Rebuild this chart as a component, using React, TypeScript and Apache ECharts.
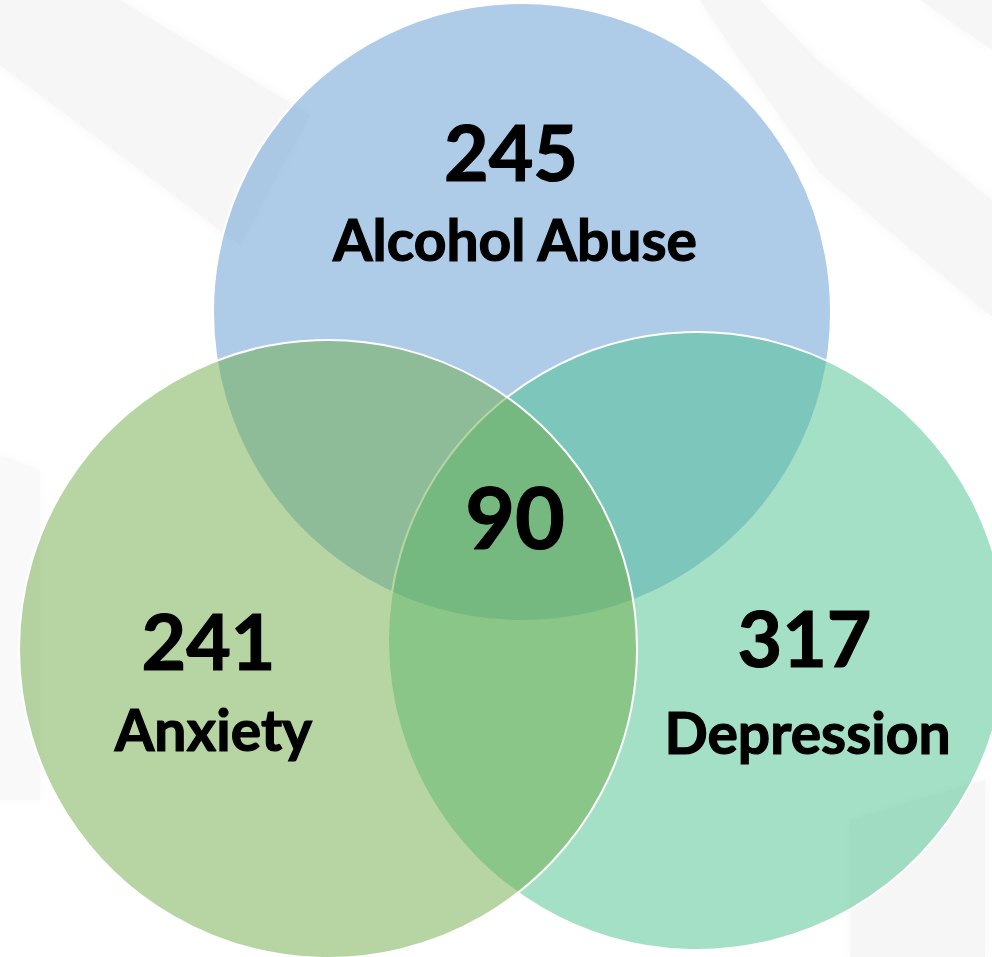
import React, { useEffect, useRef } from "react";
import * as echarts from "echarts";

// ---- Data ----
const setNames: string[] = ["Alcohol Abuse", "Anxiety", "Depression"];
const setOnlyCounts: number[] = [245, 241, 317];
const allThreeCount: number = 90;

// ---- Layout (pixel-space coordinates on hidden value axes) ----
const W = 992;
const H = 957;
const circleCenters: number[][] = [
  [522, 312],
  [328, 649],
  [697, 641],
];
const circleRadius = 309;
const circleColors: string[] = [
  "rgba(93,151,209,0.5)",
  "rgba(109,171,71,0.5)",
  "rgba(73,193,141,0.5)",
];
const drawOrder: number[] = [0, 2, 1];
const numberPos: number[][] = [
  [511, 151],
  [208.5, 639.5],
  [804.5, 637],
];
const labelPos: number[][] = [
  [515, 238.5],
  [213.5, 729],
  [807.5, 731.5],
];
const centerPos: number[] = [515, 515.5];

const FONT = "Lato, 'Open Sans', 'Noto Sans', sans-serif";
const BAND = "#f6f6f6";

export default function App() {
  const ref = useRef<HTMLDivElement>(null);
  useEffect(() => {
    document.body.style.margin = "0";
    if (!ref.current) return;
    const chart = echarts.init(ref.current, null, { renderer: "svg" });

    const circleData = drawOrder.map((i) => [
      circleCenters[i][0],
      circleCenters[i][1],
      circleRadius,
      i,
    ]);

    const textData: any[] = [];
    setOnlyCounts.forEach((v, i) => {
      textData.push({ value: [numberPos[i][0], numberPos[i][1]], t: String(v), s: 77 });
      textData.push({ value: [labelPos[i][0], labelPos[i][1]], t: setNames[i], s: 57 });
    });
    textData.push({ value: [centerPos[0], centerPos[1]], t: String(allThreeCount), s: 86 });

    const band = (points: number[][], fill = BAND) => ({
      type: "polygon",
      z: 0,
      silent: true,
      shape: { points, smooth: 0 },
      style: { fill, shadowBlur: 12, shadowColor: fill },
    });

    const option: any = {
      animation: false,
      backgroundColor: "#ffffff",
      grid: { left: 0, right: 0, top: 0, bottom: 0 },
      xAxis: { type: "value", min: 0, max: W, show: false },
      yAxis: { type: "value", min: 0, max: H, inverse: true, show: false },
      graphic: [
        band([[0, 0], [120, 0], [310, 115], [240, 245], [0, 65]]),
        band([[700, 0], [760, 0], [820, 63], [992, 200], [992, 317], [820, 173], [740, 60]]),
        band([[920, 0], [992, 0], [992, 50]]),
        band([[850, 820], [985, 780], [985, 957], [850, 957]]),
        band([[0, 455], [40, 470], [40, 800], [0, 800]], "#f9f9f9"),
      ],
      series: [
        {
          type: "custom",
          z: 2,
          silent: true,
          data: circleData,
          renderItem: (params: any, api: any) => {
            const c = api.coord([api.value(0), api.value(1)]);
            const r = api.size([api.value(2), api.value(2)])[0];
            const idx = api.value(3);
            return {
              type: "circle",
              shape: { cx: c[0], cy: c[1], r },
              style: {
                fill: circleColors[idx],
                stroke: "#ffffff",
                lineWidth: 2,
              },
            };
          },
        },
        {
          type: "custom",
          z: 5,
          silent: true,
          data: textData,
          renderItem: (params: any, api: any) => {
            const item = textData[params.dataIndex];
            const c = api.coord([api.value(0), api.value(1)]);
            return {
              type: "text",
              x: c[0],
              y: c[1],
              style: {
                text: item.t,
                fill: "#000000",
                stroke: "#000000",
                lineWidth: 1.2,
                fontFamily: FONT,
                fontWeight: "bold",
                fontSize: item.s,
                align: "center",
                verticalAlign: "middle",
              },
            };
          },
        },
      ],
    };
    chart.setOption(option);
    return () => chart.dispose();
  }, []);
  return <div ref={ref} style={{ width: W, height: H }} />;
}
